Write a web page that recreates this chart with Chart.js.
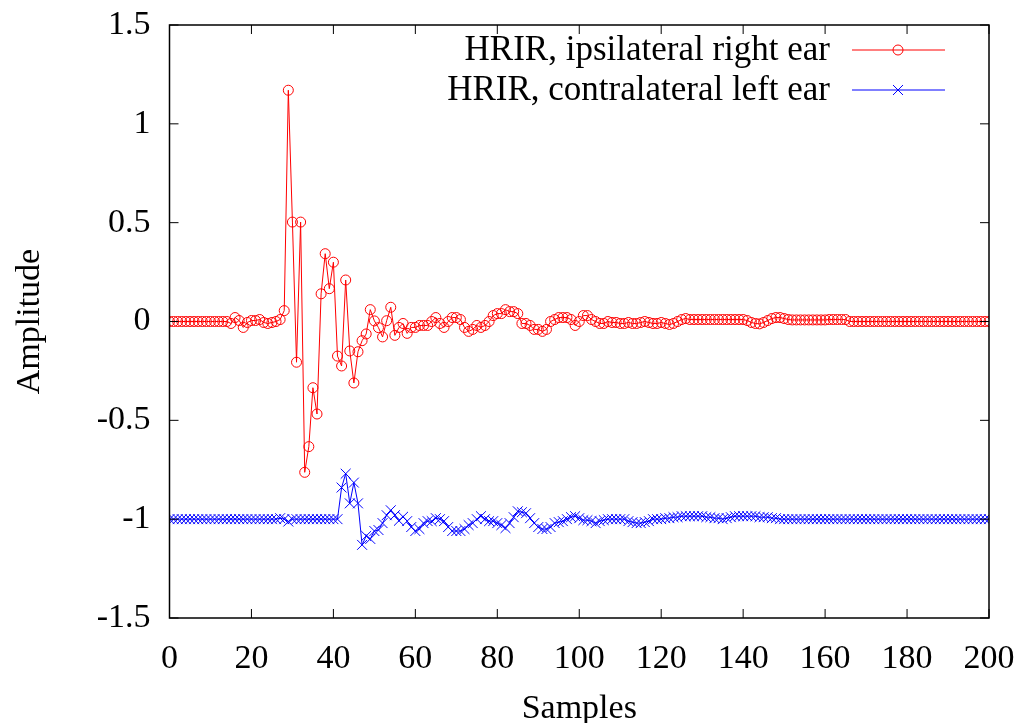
<!DOCTYPE html>
<html>
<head>
<meta charset="utf-8">
<script src="https://cdn.jsdelivr.net/npm/chart.js@4/dist/chart.umd.min.js"></script>
<style>
  html, body { margin: 0; padding: 0; background: #fff; }
  canvas { display: block; }
</style>
</head>
<body>
<canvas id="hrir" width="1021" height="723"></canvas>
<script>
// Samples 0..200
const samples = [];
for (let i = 0; i <= 200; i++) samples.push(i);

// ipsilateral right ear
const rightEar = [
  0, 0, 0, 0, 0, 0, 0, 0, 0, 0,
  0, 0, 0, 0, 0, -0.01, 0.02, 0.005, -0.03, -0.005,
  0.005, 0.005, 0.01, -0.005, -0.01, -0.005, 0, 0.01, 0.055, 1.17,
  0.503, -0.206, 0.503, -0.763, -0.633, -0.335, -0.468, 0.14, 0.343, 0.166,
  0.30, -0.175, -0.225, 0.21, -0.149, -0.311, -0.153, -0.097, -0.063, 0.06,
  0.003, -0.031, -0.078, 0.004, 0.072, -0.07, -0.03, -0.01, -0.06, -0.03,
  -0.03, -0.02, -0.02, -0.02, 0, 0.02, -0.01, -0.03, 0, 0.02,
  0.02, 0.01, -0.03, -0.05, -0.04, -0.02, -0.03, -0.02, 0, 0.03,
  0.04, 0.04, 0.06, 0.05, 0.05, 0.04, -0.01, -0.01, -0.02, -0.04,
  -0.04, -0.05, -0.04, 0, 0.01, 0.02, 0.02, 0.02, 0.01, -0.02,
  0, 0.03, 0.03, 0.01, 0, -0.01, -0.01, 0, -0.005, -0.005,
  -0.01, -0.01, -0.005, -0.01, -0.01, -0.005, 0, -0.005, -0.01, -0.01,
  -0.005, -0.01, -0.015, -0.01, 0, 0.01, 0.015, 0.01, 0.01, 0.01,
  0.01, 0.01, 0.01, 0.01, 0.01, 0.01, 0.01, 0.01, 0.01, 0.01,
  0.01, 0.005, -0.005, -0.01, -0.012, -0.005, 0.005, 0.015, 0.02, 0.02,
  0.015, 0.01, 0.008, 0.008, 0.008, 0.008, 0.008, 0.008, 0.008, 0.008,
  0.008, 0.01, 0.01, 0.01, 0.01, 0.01, 0, 0, 0, 0,
  0, 0, 0, 0, 0, 0, 0, 0, 0, 0,
  0, 0, 0, 0, 0, 0, 0, 0, 0, 0,
  0, 0, 0, 0, 0, 0, 0, 0, 0, 0,
  0
];

// contralateral left ear (offset by -1 in the plot)
const leftEar = [
  -1, -1, -1, -1, -1, -1, -1, -1, -1, -1,
  -1, -1, -1, -1, -1, -1, -1, -1, -1, -1,
  -1, -1, -1, -1, -1, -1, -1, -0.995, -1, -1.012,
  -1, -1, -1, -1, -1, -1, -1, -1, -1, -1,
  -1, -1, -0.84, -0.77, -0.92, -0.815, -0.92, -1.13, -1.085, -1.1,
  -1.06, -1.055, -1.02, -0.98, -0.955, -0.98, -1.008, -0.988, -1.01, -1.04,
  -1.06, -1.05, -1.02, -1.01, -1.01, -0.995, -1.0, -1.01, -1.04, -1.06,
  -1.06, -1.06, -1.05, -1.03, -1.02, -1.0, -0.985, -1.0, -1.01, -1.01,
  -1.02, -1.03, -1.045, -1.02, -0.99, -0.96, -0.965, -0.97, -0.995, -1.02,
  -1.04, -1.05, -1.05, -1.04, -1.02, -1.015, -1.01, -1.0, -0.99, -0.985,
  -0.995, -1.005, -1.005, -1.01, -1.02, -1.01, -1.005, -1.0, -1.0, -1.0,
  -1.0, -1.0, -1.01, -1.015, -1.02, -1.02, -1.015, -1.01, -1.0, -1.0,
  -1.0, -0.995, -0.995, -0.99, -0.99, -0.985, -0.985, -0.985, -0.985, -0.985,
  -0.985, -0.99, -0.99, -0.995, -0.995, -1.0, -0.995, -0.99, -0.985, -0.985,
  -0.985, -0.985, -0.985, -0.985, -0.99, -0.99, -0.99, -0.995, -0.995, -1.0,
  -1.0, -1.0, -1.0, -1.0, -1.0, -1.0, -1.0, -1.0, -1.0, -1.0,
  -1.0, -1.0, -1.0, -1.0, -1.0, -1.0, -1.0, -1.0, -1.0, -1.0,
  -1.0, -1.0, -1.0, -1.0, -1.0, -1.0, -1.0, -1.0, -1.0, -1.0,
  -1.0, -1.0, -1.0, -1.0, -1.0, -1.0, -1.0, -1.0, -1.0, -1.0,
  -1.0, -1.0, -1.0, -1.0, -1.0, -1.0, -1.0, -1.0, -1.0, -1.0,
  -1.0
];

const seriesNames = ['HRIR, ipsilateral right ear', 'HRIR, contralateral left ear'];
const xTicks = [0, 20, 40, 60, 80, 100, 120, 140, 160, 180, 200];
const yTicks = [-1.5, -1, -0.5, 0, 0.5, 1, 1.5];

const FONT = 'Liberation Serif, Times New Roman, serif';
const FSIZE = 34;

// gnuplot style frame with inward ticks on all four sides
const frameTicks = {
  id: 'frameTicks',
  afterDatasetsDraw(chart) {
    const { ctx, chartArea: a, scales: { x, y } } = chart;
    ctx.save();
    ctx.strokeStyle = '#000';
    ctx.lineWidth = 1.5;
    ctx.strokeRect(a.left, a.top, a.right - a.left, a.bottom - a.top);
    ctx.lineWidth = 1;
    const len = 9;
    ctx.beginPath();
    xTicks.forEach(v => {
      const px = x.getPixelForValue(v);
      ctx.moveTo(px, a.bottom); ctx.lineTo(px, a.bottom - len);
      ctx.moveTo(px, a.top); ctx.lineTo(px, a.top + len);
    });
    yTicks.forEach(v => {
      const py = y.getPixelForValue(v);
      ctx.moveTo(a.left, py); ctx.lineTo(a.left + len, py);
      ctx.moveTo(a.right, py); ctx.lineTo(a.right - len, py);
    });
    ctx.stroke();
    ctx.restore();
  }
};

// legend in the top right corner, text left of the sample line
const keyBox = {
  id: 'keyBox',
  afterDraw(chart) {
    const { ctx } = chart;
    const rows = [50, 90];
    ctx.save();
    ctx.font = '35px ' + FONT;
    ctx.textAlign = 'right';
    ctx.textBaseline = 'middle';
    chart.data.datasets.forEach((ds, i) => {
      const yy = rows[i];
      ctx.fillStyle = '#000';
      ctx.fillText(ds.label, 830, yy + 1);
      ctx.strokeStyle = ds.borderColor;
      ctx.lineWidth = 1;
      ctx.beginPath();
      ctx.moveTo(852, yy); ctx.lineTo(945, yy);
      ctx.stroke();
      const cx = 898;
      ctx.beginPath();
      if (ds.pointStyle === 'circle') {
        ctx.arc(cx, yy, 5, 0, Math.PI * 2);
      } else {
        ctx.moveTo(cx - 5, yy - 5); ctx.lineTo(cx + 5, yy + 5);
        ctx.moveTo(cx - 5, yy + 5); ctx.lineTo(cx + 5, yy - 5);
      }
      ctx.stroke();
    });
    ctx.restore();
  }
};

const ctx = document.getElementById('hrir').getContext('2d');
new Chart(ctx, {
  type: 'line',
  data: {
    labels: samples,
    datasets: [{
      label: seriesNames[0],
      data: samples.map((s, i) => ({ x: s, y: rightEar[i] })),
      borderColor: '#ff0000',
      backgroundColor: 'rgba(0,0,0,0)',
      borderWidth: 1,
      pointStyle: 'circle',
      pointRadius: 5,
      pointBorderWidth: 1,
      pointBorderColor: '#ff0000',
      pointBackgroundColor: 'rgba(0,0,0,0)',
      tension: 0
    }, {
      label: seriesNames[1],
      data: samples.map((s, i) => ({ x: s, y: leftEar[i] })),
      borderColor: '#0000ff',
      backgroundColor: 'rgba(0,0,0,0)',
      borderWidth: 1,
      pointStyle: 'crossRot',
      pointRadius: 7,
      pointBorderWidth: 1,
      pointBorderColor: '#0000ff',
      tension: 0
    }]
  },
  options: {
    responsive: false,
    animation: false,
    layout: { padding: { top: 25, right: 32, left: 0, bottom: 0 } },
    plugins: {
      legend: { display: false },
      tooltip: { enabled: false }
    },
    scales: {
      x: {
        type: 'linear',
        min: 0,
        max: 200,
        afterBuildTicks: s => { s.ticks = xTicks.map(v => ({ value: v })); },
        afterFit: s => { s.height = 105; s.paddingLeft = 0; s.paddingRight = 0; },
        grid: { display: false, drawTicks: false },
        border: { display: false },
        ticks: { color: '#000', padding: 21, maxRotation: 0, font: { family: FONT, size: FSIZE } },
        title: {
          display: true, text: 'Samples', color: '#000',
          padding: { top: 0, bottom: 0 },
          font: { family: FONT, size: FSIZE, lineHeight: 0.8 }
        }
      },
      y: {
        min: -1.5,
        max: 1.5,
        afterBuildTicks: s => { s.ticks = yTicks.map(v => ({ value: v })); },
        afterFit: s => { s.width = 169.5; s.paddingTop = 0; s.paddingBottom = 0; },
        grid: { display: false, drawTicks: false },
        border: { display: false },
        ticks: { color: '#000', padding: 19, callback: v => String(v), font: { family: FONT, size: FSIZE } },
        title: {
          display: true, text: 'Amplitude', color: '#000',
          padding: { top: 10, bottom: 0 },
          font: { family: FONT, size: FSIZE, lineHeight: 1.2 }
        }
      }
    }
  },
  plugins: [frameTicks, keyBox]
});
</script>
</body>
</html>
